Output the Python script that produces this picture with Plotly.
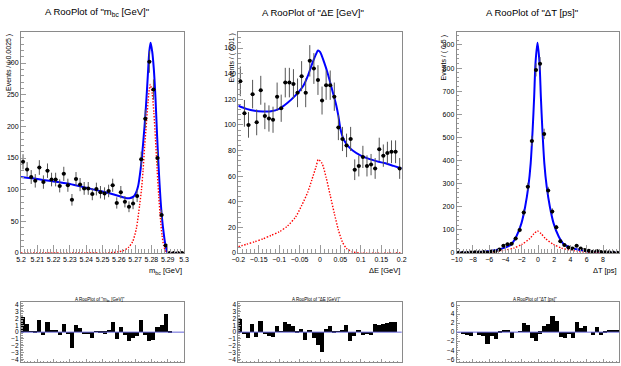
import numpy as np
import plotly.graph_objects as go

# ---------------- data ----------------
# m_bc panel: 40 bins, 5.20 .. 5.30
mbc_range = (5.2, 5.3)
mbc_counts = [144, 132, 120, 114, 135, 112, 130, 116, 116, 106, 125, 107, 84, 117, 108, 102,
              102, 93, 101, 96, 94, 98, 107, 79, 96, 81, 73, 78, 90, 148, 212, 302, 258, 150,
              60, 12, 0, 0, 0, 0]
mbc_total_x = [5.2, 5.21, 5.22, 5.23, 5.24, 5.25, 5.26, 5.264, 5.2665, 5.269, 5.2705, 5.2718,
               5.2735, 5.275, 5.2765, 5.2778, 5.2787, 5.2795, 5.2805, 5.2815, 5.2825, 5.2835,
               5.2845, 5.2855, 5.2865, 5.2875, 5.2885, 5.2895, 5.29, 5.295, 5.3]
mbc_total_y = [120, 117, 113, 109, 103, 97, 90, 87, 86.5, 89, 95, 105, 135, 175, 225, 280, 318,
               332, 318, 290, 245, 185, 132, 88, 55, 32, 14, 3, 0, 0, 0]
mbc_sig_x = [5.2, 5.24, 5.255, 5.26, 5.263, 5.266, 5.2685, 5.2708, 5.2728, 5.2739, 5.2749,
             5.2759, 5.2771, 5.278, 5.2787, 5.2793, 5.2805, 5.2815, 5.2825, 5.2835, 5.2845,
             5.2855, 5.2865, 5.2875, 5.2885, 5.2895, 5.3]
mbc_sig_y = [0, 0, 0.5, 2, 4, 9, 18, 39, 76, 100, 131, 170, 210, 240, 258, 266, 252, 222, 180,
             132, 90, 55, 28, 12, 4, 1, 0]
mbc_resid = [2.2, 1.2, 0.1, -0.1, 1.7, -0.4, 1.4, 0.2, 0.3, -0.5, 1.2, -0.35, -2.4, 1.0, 0.5,
             -0.3, -0.3, -0.85, 0.1, -0.15, -0.25, 0.3, 1.4, -1.0, 0.75, -0.45, -1.3, -0.95,
             -0.55, 1.8, -0.45, -1.3, -1.25, 0.7, 1.05, 2.65, -0.2, 0, 0, 0]

# Delta E panel: 40 bins, -0.2 .. 0.2
de_range = (-0.2, 0.2)
de_counts = [134, 109, 100, 124, 102, 127, 107, 105, 104, 122, 113, 133, 133, 132, 125, 138,
             125, 150, 144, 135, 119, 131, 131, 122, 98, 89, 84, 89, 65, 68, 75, 68, 69, 66,
             81, 76, 78, 79, 79, 66]
de_total_x = [-0.2, -0.18, -0.16, -0.14, -0.12, -0.1, -0.08, -0.06, -0.04, -0.03, -0.02, -0.01,
              -0.005, 0, 0.01, 0.02, 0.03, 0.04, 0.045, 0.05, 0.055, 0.06, 0.07, 0.08, 0.1,
              0.12, 0.14, 0.16, 0.18, 0.2]
de_total_y = [115, 112.5, 111, 110.5, 110.6, 112.5, 117, 123, 131, 138, 147, 155, 158, 157,
              149, 139, 127, 115, 107, 97, 91, 87.5, 83, 80, 76, 73.5, 71.5, 70, 68, 66]
de_sig_x = [-0.2, -0.18, -0.16, -0.14, -0.12, -0.1, -0.08, -0.06, -0.045, -0.03, -0.02, -0.01,
            -0.004, 0.005, 0.015, 0.025, 0.035, 0.045, 0.055, 0.065, 0.08, 0.1, 0.2]
de_sig_y = [4.9, 6.8, 8.8, 11, 13.7, 16.5, 21, 28, 37, 47.5, 57, 67, 73, 70, 59, 45, 31, 18,
            8.5, 3.6, 0.8, 0, 0]
de_resid = [1.9, -0.3, -0.95, 1.2, -0.8, 1.55, -0.35, -0.55, -0.8, 0.9, 0.1, 1.5, 1.2, 0.8,
            -0.15, 0.45, -1.2, 0.15, -0.95, -1.9, -2.95, 0.4, 0.85, -0.15, 0.05, 0.15, 1.05,
            -1.3, -0.6, 0.15, -0.45, -0.35, -0.45, 1.2, 0.95, 1.15, 1.3, 1.4, 1.45, 0]

# Delta T panel: 40 bins, -10 .. 10
dt_range = (-10, 10)
dt_counts = [1, 1, 1, 2, 3, 3, 4, 2, 6, 8, 15, 31, 38, 40, 63, 100, 175, 287, 485, 792, 819,
             515, 270, 180, 111, 51, 35, 24, 20, 31, 19, 13, 10, 5, 9, 4, 3, 3, 2, 1]
dt_total_x = [-10, -8, -6, -5, -4.25, -3.75, -3.3, -2.68, -2.04, -1.58, -1.19, -0.9, -0.66,
              -0.47, -0.31, -0.06, 0.19, 0.35, 0.54, 0.78, 1.07, 1.46, 1.92, 2.56, 3.2, 3.7,
              4.2, 5, 6, 8, 10]
dt_total_y = [1, 2.5, 8, 14, 21, 28, 37, 70, 128, 200, 287, 388, 532, 677, 821, 910, 821, 677,
              532, 388, 287, 200, 128, 70, 37, 28, 21, 14, 8, 2.5, 1]
dt_sig_x = [-10, -8, -6, -5, -4, -3, -2, -1, -0.5, -0.06, 0.4, 0.9, 1.9, 2.9, 3.9, 5, 6, 8, 10]
dt_sig_y = [0.3, 1, 3, 7, 13, 21, 37, 63, 83, 95, 83, 63, 37, 21, 13, 7, 3, 1, 0.3]
dt_resid = [0, -0.5, -0.8, -0.95, 0, -0.8, -0.95, -2.6, -0.9, -1.55, -0.3, 0.5, 0.3, -1.25, 0,
            0.15, 2.05, 1.55, -1.25, -2.0, -0.4, 1.2, 1.8, 3.4, 2.5, -1.05, -1.4, -0.45, -1.25,
            2.15, 0.75, 1.25, 0, -0.65, 1.1, -0.6, -0.3, 0.2, 0.5, 0.3]

titles = ['A RooPlot of "m<sub>bc</sub> [GeV]"', 'A RooPlot of "ΔE [GeV]"', 'A RooPlot of "ΔT [ps]"']
xtitles = ['m<sub>bc</sub> [GeV]', 'ΔE [GeV]', 'ΔT [ps]']
ytitles = ['Events / ( 0.0025 )', 'Events / ( 0.01 )', 'Events / ( 0.5 )']

# ---------------- layout helpers ----------------
W, H = 621, 366
FONT = "Liberation Sans, Arial, sans-serif"


def fx(p):
    return p / W


def fy(p):
    return (H - p) / H


frames = [(21, 184), (238.3, 401.7), (456.7, 619.3)]
top_y = (32, 253)
bot_y = (302.3, 362)
top_ylim = [349, 172.5, 956]
xdt = [0.01, 0.05, 2]
xminor = [0.002, 0.01, 0.4]
ydt = [50, 20, 100]
yminor = [10, 4, 20]
res_lim = [4.4, 4.4, 6.6]
res_dt = [1, 1, 2]
res_minor = [0.25, 0.25, 0.5]
title_cx = [96.7, 313, 531.7]
ytitle_cx = [8.5, 231, 443.5]

fig = go.Figure()

panels = [
    (mbc_range, mbc_counts, mbc_total_x, mbc_total_y, mbc_sig_x, mbc_sig_y, mbc_resid),
    (de_range, de_counts, de_total_x, de_total_y, de_sig_x, de_sig_y, de_resid),
    (dt_range, dt_counts, dt_total_x, dt_total_y, dt_sig_x, dt_sig_y, dt_resid),
]

base_axis = dict(showline=True, linecolor="#8a8a8a", linewidth=1, mirror=True,
                 ticks="inside", tickcolor="#9a9a9a", showgrid=False, zeroline=False,
                 automargin=False,
                 tickfont=dict(family=FONT, size=7, color="black"), tickangle=0)

shapes = []
annotations = []
for k, (rng, counts, tx, ty, sx, sy, res) in enumerate(panels):
    n = len(counts)
    edges = np.linspace(rng[0], rng[1], n + 1)
    centers = 0.5 * (edges[:-1] + edges[1:])
    bw = (rng[1] - rng[0]) / n
    c = np.array(counts, dtype=float)
    err_up = np.where(c > 0, np.sqrt(c), 1.15)
    err_lo = np.sqrt(c)

    xa = "x" if k == 0 else f"x{k + 1}"
    ya = "y" if k == 0 else f"y{k + 1}"
    xr = f"x{k + 4}"
    yr = f"y{k + 4}"

    fig.add_trace(go.Scatter(x=tx, y=ty, mode="lines", xaxis=xa, yaxis=ya,
                             line=dict(color="#0000ff", width=2, shape="spline", smoothing=0.7),
                             hoverinfo="skip"))
    fig.add_trace(go.Scatter(x=sx, y=sy, mode="lines", xaxis=xa, yaxis=ya,
                             line=dict(color="#ff0000", width=1.4, dash="1.4px,1.6px",
                                       shape="spline", smoothing=0.7), hoverinfo="skip"))
    fig.add_trace(go.Scatter(x=centers, y=counts, mode="markers", xaxis=xa, yaxis=ya,
                             marker=dict(color="black", size=4),
                             error_y=dict(type="data", array=err_up, arrayminus=err_lo,
                                          color="#555555", thickness=1, width=0),
                             error_x=dict(type="constant", value=bw / 2, color="#333333",
                                          thickness=1, width=0)))
    fig.add_trace(go.Bar(x=centers, y=res, width=bw, xaxis=xr, yaxis=yr,
                         marker=dict(color="black", line=dict(width=0))))

    x0, x1 = frames[k]
    ax_x = dict(base_axis, domain=[fx(x0), fx(x1)], range=list(rng), anchor=ya,
                tick0=rng[0], dtick=xdt[k], ticklen=8,
                minor=dict(ticks="inside", ticklen=4, dtick=xminor[k], tick0=rng[0],
                           tickcolor="#9a9a9a", showgrid=False))
    ax_y = dict(base_axis, domain=[fy(top_y[1]), fy(top_y[0])], range=[0, top_ylim[k]],
                anchor=xa, tick0=0, dtick=ydt[k], ticklen=5,
                minor=dict(ticks="inside", ticklen=2.5, dtick=yminor[k], tick0=0,
                           tickcolor="#9a9a9a", showgrid=False))
    ax_xr = dict(base_axis, domain=[fx(x0), fx(x1)], range=list(rng), anchor=yr,
                 tick0=rng[0], dtick=xdt[k], ticklen=3,
                 minor=dict(ticks="inside", ticklen=1.5, dtick=xminor[k], tick0=rng[0],
                            tickcolor="#9a9a9a", showgrid=False))
    ax_yr = dict(base_axis, domain=[fy(bot_y[1]), fy(bot_y[0])],
                 range=[-res_lim[k], res_lim[k]], anchor=xr, tick0=0, dtick=res_dt[k],
                 ticklen=3,
                 tickfont=dict(family=FONT, size=6.5, color="black"),
                 minor=dict(ticks="inside", ticklen=1.5, dtick=res_minor[k], tick0=0,
                            tickcolor="#9a9a9a", showgrid=False))
    fig.layout["xaxis" if k == 0 else f"xaxis{k + 1}"] = ax_x
    fig.layout["yaxis" if k == 0 else f"yaxis{k + 1}"] = ax_y
    fig.layout[f"xaxis{k + 4}"] = ax_xr
    fig.layout[f"yaxis{k + 4}"] = ax_yr

    shapes.append(dict(type="line", xref=f"{xr} domain", yref=yr, x0=0, x1=1, y0=0, y1=0,
                       line=dict(color="#6464d8", width=1), layer="above"))

    annotations.append(dict(text=titles[k], x=fx(title_cx[k]), y=fy(12), xref="paper",
                            yref="paper", showarrow=False, xanchor="center", yanchor="middle",
                            font=dict(family=FONT, size=9.5, color="black")))
    annotations.append(dict(text=titles[k], x=fx(title_cx[k] + 3), y=fy(299.5), xref="paper",
                            yref="paper", showarrow=False, xanchor="center", yanchor="middle",
                            font=dict(family=FONT, size=4.5, color="black")))
    annotations.append(dict(text=xtitles[k], x=fx(x1), y=fy(263.5), xref="paper",
                            yref="paper", showarrow=False, xanchor="right", yanchor="top",
                            font=dict(family=FONT, size=7.5, color="black")))
    annotations.append(dict(text=ytitles[k], x=fx(ytitle_cx[k]), y=fy(top_y[0]), xref="paper",
                            yref="paper", showarrow=False, xanchor="center", yanchor="top",
                            textangle=-90, font=dict(family=FONT, size=7, color="black")))

fig.update_layout(width=W, height=H, autosize=False, margin=dict(l=0, r=0, t=0, b=0),
                  paper_bgcolor="white", plot_bgcolor="white", showlegend=False,
                  barmode="overlay", bargap=0, shapes=shapes, annotations=annotations,
                  font=dict(family=FONT, color="black"))

fig.write_html("out.html", include_plotlyjs=True, config={"displayModeBar": False},
               post_script="document.body.style.margin='0';document.body.style.padding='0';"
                           "document.body.style.overflow='hidden';")
